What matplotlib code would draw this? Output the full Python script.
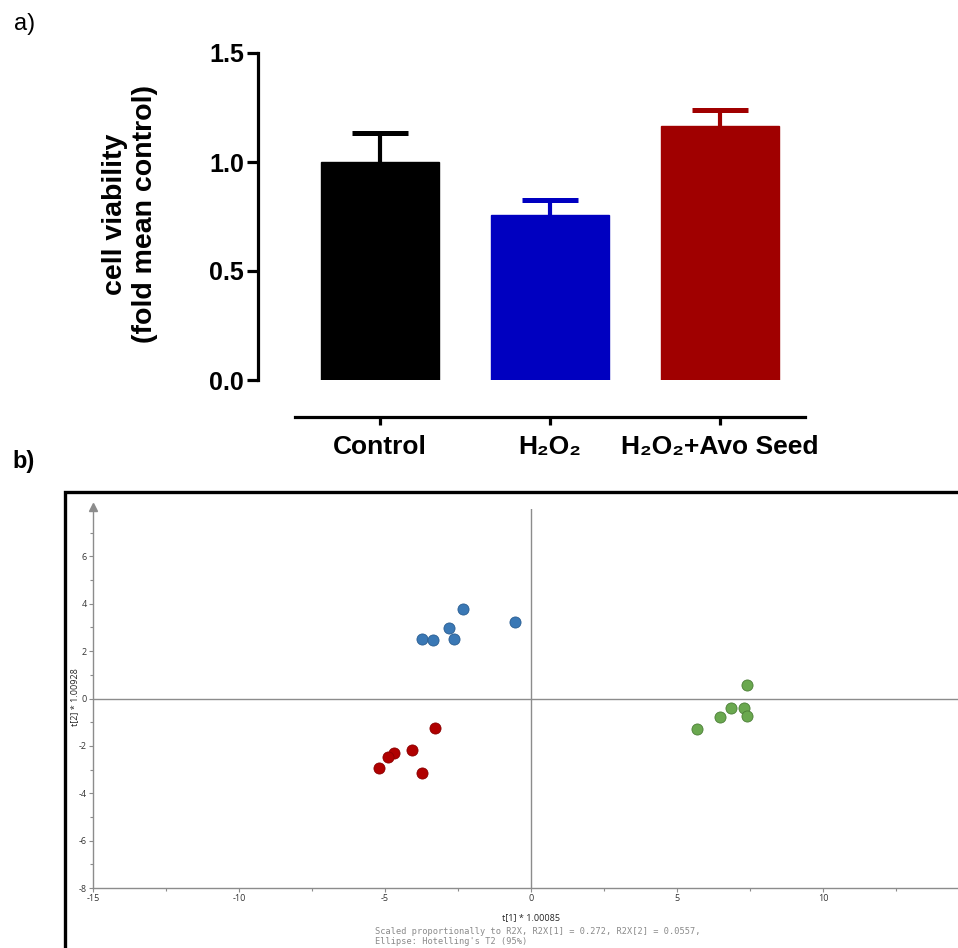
import matplotlib
matplotlib.use("Agg")
import matplotlib.pyplot as plt
from matplotlib.patches import Rectangle

plt.rcParams["axes.unicode_minus"] = False

# ── panel a: cell viability ──────────────────────────────────────────────────
groups      = ["Control", "H\u2082O\u2082", "H\u2082O\u2082+Avo Seed"]
viability   = [1.00, 0.757, 1.165]
sem_upper   = [0.133, 0.069, 0.074]
bar_colors  = ["#000000", "#0000C0", "#A00000"]

# ── panel b: score plot t[1] vs t[2] ─────────────────────────────────────────
blue_t1  = [-3.75, -3.34, -2.81, -2.64, -2.33, -0.54]
blue_t2  = [2.52, 2.45, 2.98, 2.50, 3.78, 3.23]
red_t1   = [-3.29, -4.07, -4.69, -4.90, -5.21, -3.73]
red_t2   = [-1.25, -2.17, -2.30, -2.48, -2.93, -3.14]
green_t1 = [5.68, 6.48, 6.85, 7.28, 7.40, 7.40]
green_t2 = [-1.28, -0.79, -0.41, -0.39, -0.75, 0.56]

W, H = 958, 948
fig = plt.figure(figsize=(W / 100, H / 100), dpi=100)
sans = ["Liberation Sans", "DejaVu Sans"]


def fx(px):
    return px / W


def fy(py):
    return 1 - py / H


# ── bar chart ────────────────────────────────────────────────────────────────
ax = fig.add_axes([fx(295), fy(380), fx(805) - fx(295), fy(53) - fy(380)])
x = list(range(len(groups)))
ax.bar(x, viability, width=0.69, color=bar_colors, edgecolor=bar_colors, zorder=2)
# upper-only error bars: stem from the bar top, cap at mean + SEM
cap = 0.165
for xi, v, e, c in zip(x, viability, sem_upper, bar_colors):
    ax.plot([xi, xi], [v, v + e], color=c, lw=3.0, solid_capstyle="butt", zorder=1)
    ax.plot([xi - cap, xi + cap], [v + e, v + e], color=c, lw=3.6,
            solid_capstyle="butt", zorder=1)

ax.set_xlim(-0.5, 2.5)
ax.set_ylim(0, 1.5)
ax.set_yticks([0.0, 0.5, 1.0, 1.5])
ax.set_yticklabels(["0.0", "0.5", "1.0", "1.5"])
ax.set_xticks(x)
ax.set_xticklabels(groups)
for sp in ("top", "right"):
    ax.spines[sp].set_visible(False)
ax.spines["left"].set_position(("outward", 37 * 0.72))
ax.spines["bottom"].set_position(("outward", 37 * 0.72))
ax.spines["left"].set_linewidth(2.3)
ax.spines["bottom"].set_linewidth(2.3)
ax.tick_params(axis="y", length=8, width=2.3, pad=2)
ax.tick_params(axis="x", length=6, width=2.3, pad=7)
for lab in ax.get_yticklabels():
    lab.set_fontfamily(sans)
    lab.set_fontweight("bold")
    lab.set_fontsize(18)
for lab in ax.get_xticklabels():
    lab.set_fontfamily(sans)
    lab.set_fontweight("bold")
    lab.set_fontsize(19)
fig.text(fx(130), fy(214), "cell viability\n(fold mean control)",
         fontsize=20.5, fontweight="bold", family=sans, linespacing=1.25,
         rotation=90, ha="center", va="center", multialignment="center")

fig.text(fx(14), fy(24), "a)", fontsize=17, family=sans, va="center")
fig.text(fx(12), fy(462), "b)", fontsize=17, family=sans, fontweight="bold",
         va="center")

# ── score plot ───────────────────────────────────────────────────────────────
fig.add_artist(Rectangle((fx(65), -0.05), 1.1, fy(492) + 0.05,
                         transform=fig.transFigure, fill=False,
                         edgecolor="black", linewidth=2.4))

bx = fig.add_axes([fx(93), fy(888), fx(969) - fx(93), fy(509) - fy(888)])
bx.set_xlim(-15, 15)
bx.set_ylim(-8, 8)
grey = "#8c8c8c"
bx.axhline(0, color=grey, lw=1.0, zorder=1)
bx.axvline(0, color=grey, lw=1.0, zorder=1)

kw = dict(marker="o", linestyle="none", markersize=8, zorder=3,
          markeredgewidth=0.6)
bx.plot(blue_t1, blue_t2, color="#3A78B5", markeredgecolor="#2A5E92", **kw)
bx.plot(red_t1, red_t2, color="#B00000", markeredgecolor="#8A0000", **kw)
bx.plot(green_t1, green_t2, color="#6AA84F", markeredgecolor="#4C7E37", **kw)

for sp in ("top", "right"):
    bx.spines[sp].set_visible(False)
for sp in ("left", "bottom"):
    bx.spines[sp].set_color(grey)
    bx.spines[sp].set_linewidth(1.0)
bx.plot([-15], [8.1], marker="^", color=grey, markersize=6,
        clip_on=False, zorder=4)

bx.set_xticks([-15, -10, -5, 0, 5, 10])
bx.set_xticks([-12.5, -7.5, -2.5, 2.5, 7.5, 12.5], minor=True)
bx.set_yticks([-8, -6, -4, -2, 0, 2, 4, 6])
bx.set_yticks([-7, -5, -3, -1, 1, 3, 5, 7], minor=True)
bx.tick_params(which="both", colors=grey, labelcolor="#333333",
               labelsize=6.5, length=3, width=0.8, pad=1.5)
bx.tick_params(which="minor", length=2)
for lab in bx.get_xticklabels() + bx.get_yticklabels():
    lab.set_fontfamily(["Open Sans", "DejaVu Sans"])

fig.text(fx(531), fy(918), "t[1] * 1.00085", fontsize=6.5, color="#222222",
         family=["Open Sans", "DejaVu Sans"], ha="center", va="center")
fig.text(fx(75), fy(697), "t[2] * 1.00928", fontsize=6.5, color="#222222",
         family=["Open Sans", "DejaVu Sans"], ha="center", va="center",
         rotation=90)
fig.text(fx(375), fy(932),
         "Scaled proportionally to R2X, R2X[1] = 0.272, R2X[2] = 0.0557,",
         fontsize=6.2, color="#8a8a8a", family="DejaVu Sans Mono",
         ha="left", va="center")
fig.text(fx(375), fy(942), "Ellipse: Hotelling's T2 (95%)",
         fontsize=6.2, color="#8a8a8a", family="DejaVu Sans Mono",
         ha="left", va="center")

fig.savefig("out.png", dpi=100)
